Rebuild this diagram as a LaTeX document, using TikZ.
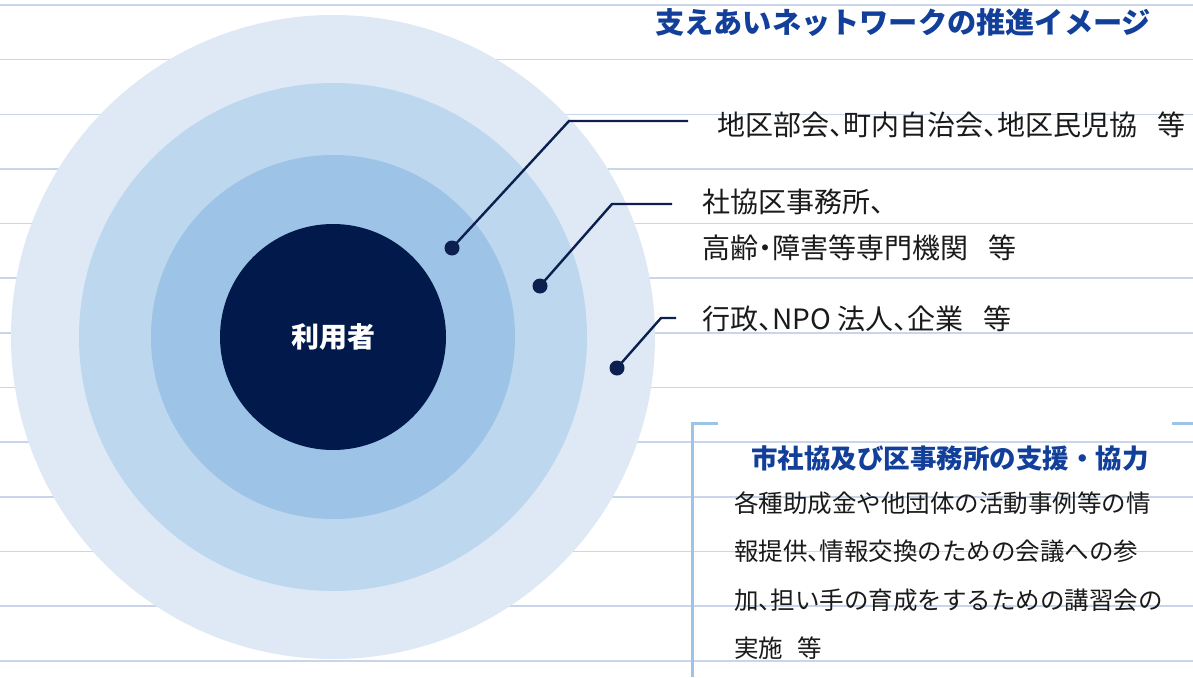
\documentclass[tikz,border=0pt]{standalone}
\usepackage{fontspec}
\newfontfamily\jp{Noto Sans CJK JP}
\newfontfamily\jph[RawFeature=+halt]{Noto Sans CJK JP}
\XeTeXlinebreaklocale "ja"
\XeTeXlinebreakskip=0pt plus 1fil
\definecolor{ruleline}{HTML}{C9D5E9}
\definecolor{ringA}{HTML}{DEE9F5}
\definecolor{ringB}{HTML}{BDD7EE}
\definecolor{ringC}{HTML}{9DC3E6}
\definecolor{core}{HTML}{011A4B}
\definecolor{navy}{HTML}{0D1F4F}
\definecolor{titleblue}{HTML}{123F9A}
\definecolor{bracket}{HTML}{9DC3E6}
\definecolor{txt}{HTML}{1A1A1A}
\begin{document}
\begin{tikzpicture}[x=1pt,y=-1pt,
  ring/.style={circle,inner sep=0pt,minimum size=#1},
  dotnode/.style={circle,fill=navy,inner sep=0pt,minimum size=15pt},
  leader/.style={draw=navy,line width=2.4pt},
  label/.style={anchor=west,inner sep=0pt,font=\jph\fontsize{28}{32}\selectfont,text=txt},
  body/.style={anchor=west,inner sep=0pt,font=\jph\fontsize{24.5}{30}\selectfont,text=txt}]
\useasboundingbox (0,0) rectangle (1193,677);
\fill[white] (0,0) rectangle (1193,677);
% ruled lines
\foreach \k in {0,...,12}{
  \draw[ruleline,line width=1.6pt] (0,{5+54.65*\k}) -- (1193,{5+54.65*\k});
}
% rings
\node[ring=644pt,fill=ringA] (r1) at (333,337) {};
\node[ring=508pt,fill=ringB] (r2) at (333,337) {};
\node[ring=364pt,fill=ringC] (r3) at (333,337) {};
\node[ring=226pt,fill=core,text=white,font=\jp\bfseries\fontsize{28}{32}\selectfont] (user) at (333,337) {利用者};
% title
\node[anchor=west,inner sep=0pt,text=titleblue,font=\jp\bfseries\fontsize{29.2}{32}\selectfont] (title) at (655,23) {支えあいネットワークの推進イメージ};
% leaders
\node[dotnode] (d1) at (452,248) {};
\coordinate (b1) at (569,121);
\coordinate (e1) at (688,121);
\node[dotnode] (d2) at (540,286) {};
\coordinate (b2) at (612,204);
\coordinate (e2) at (672,204);
\node[dotnode] (d3) at (617,368) {};
\coordinate (b3) at (661,318);
\coordinate (e3) at (676,318);
\draw[leader] (d1.center) -- (b1) -- (e1);
\draw[leader] (d2.center) -- (b2) -- (e2);
\draw[leader] (d3.center) -- (b3) -- (e3);
% labels
\node[label] (l1) at (717,125) {地区部会、町内自治会、地区民児協\hspace{20pt}等};
\node[label] (l2a) at (702,202) {社協区事務所、};
\node[label] (l2b) at (702,248) {高齢・障害等専門機関\hspace{20pt}等};
\node[label] (l3) at (702,319) {行政、NPO 法人、企業\hspace{20pt}等};
% bracket box
\coordinate (bx1) at (718,423);
\coordinate (bx2) at (692,423);
\coordinate (bx3) at (692,677);
\coordinate (bx4) at (1172,423);
\coordinate (bx5) at (1193,423);
\draw[bracket,line width=3pt] (bx1) -- (bx2) -- (bx3);
\draw[bracket,line width=3pt] (bx4) -- (bx5);
\node[anchor=west,inner sep=0pt,text=titleblue,font=\jp\bfseries\fontsize{26.5}{30}\selectfont] (bt) at (751,458) {市社協及び区事務所の支援・協力};
\node[body] (t1) at (734,503) {\makebox[420pt][s]{各種助成金や他団体の活動事例等の情}};
\node[body] (t2) at (734,551.5) {\makebox[420pt][s]{報提供、情報交換のための会議への参}};
\node[body] (t3) at (734,600) {\makebox[420pt][s]{加、担い手の育成をするための講習会の}};
\node[body] (t4) at (734,648) {実施\hspace{14pt}等};
\end{tikzpicture}
\end{document}
